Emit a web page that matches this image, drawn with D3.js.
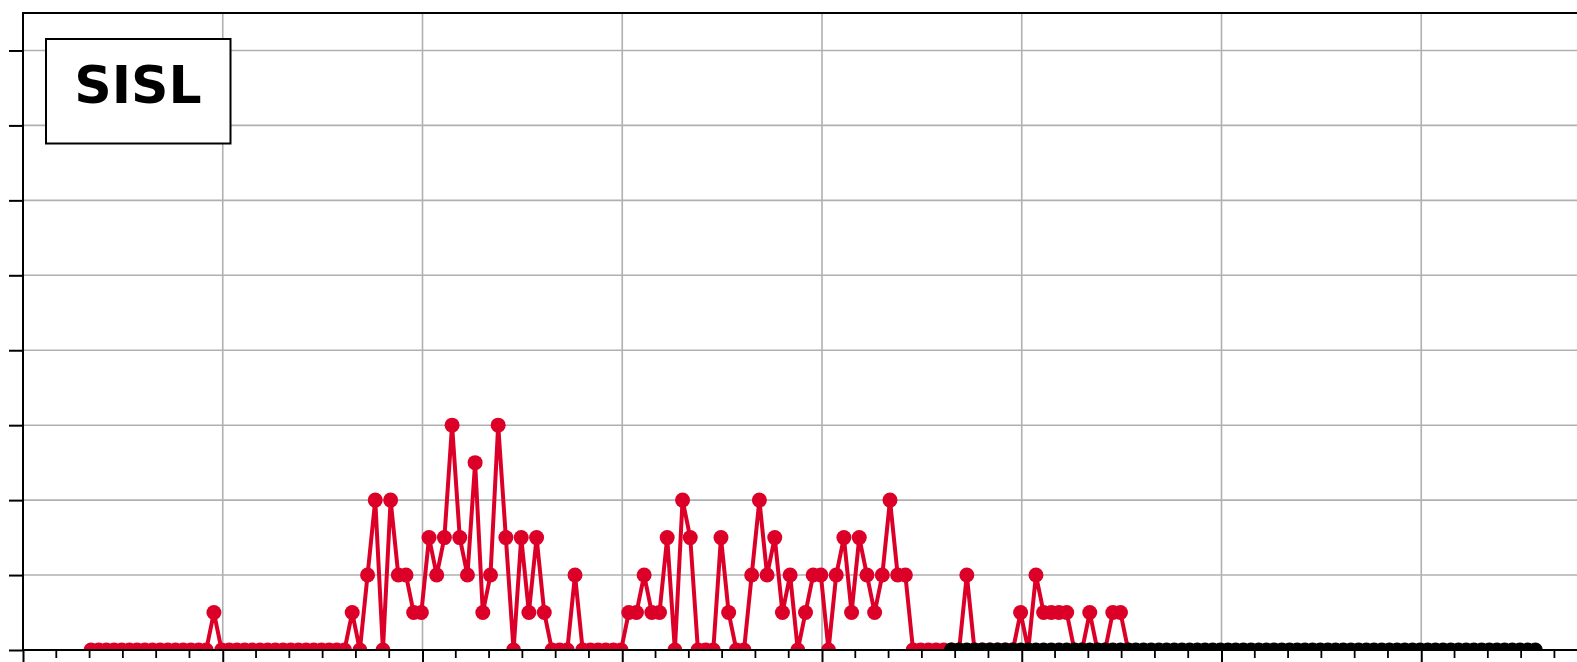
<!DOCTYPE html>
<html>
<head>
<meta charset="utf-8">
<script src="https://cdn.jsdelivr.net/npm/d3@7/dist/d3.min.js"></script>
<style>
  body { margin: 0; background: #fff; overflow: hidden; }
  svg { display: block; }
</style>
</head>
<body>
<div id="chart"></div>
<script>
// weekly counts; the start value is the week position of the first point
var redStart = 8.85;
var redCounts = [
  0, 0, 0, 0, 0, 0, 0, 0, 0, 0, 0, 0, 0, 0, 0, 0,
  1,
  0, 0, 0, 0, 0, 0, 0, 0, 0, 0, 0, 0, 0, 0, 0, 0, 0,
  1, 0, 2, 4, 0, 4, 2, 2, 1, 1,
  3, 2, 3, 6, 3, 2, 5, 1, 2, 6,
  3, 0, 3, 1, 3, 1, 0, 0, 0, 2,
  0, 0, 0, 0, 0, 0,
  1, 1, 2, 1, 1, 3, 0, 4, 3, 0,
  0, 0, 3, 1, 0, 0, 2, 4, 2, 3,
  1, 2, 0, 1, 2, 2, 0, 2, 3, 1,
  3, 2, 1, 2, 4, 2, 2, 0,
  0, 0, 0, 0, 0, 0,
  2,
  0, 0, 0, 0, 0, 0,
  1, 0, 2, 1, 1, 1, 1, 0, 0, 1, 0, 0, 1, 1, 0
];
var blackStart = 120.85;
var blackCounts = [
  0, 0, 0, 0, 0, 0, 0, 0, 0, 0, 0, 0, 0, 0, 0, 0, 0, 0, 0, 0,
  0, 0, 0, 0, 0, 0, 0, 0, 0, 0, 0, 0, 0, 0, 0, 0, 0, 0, 0, 0,
  0, 0, 0, 0, 0, 0, 0, 0, 0, 0, 0, 0, 0, 0, 0, 0, 0, 0, 0, 0,
  0, 0, 0, 0, 0, 0, 0, 0, 0, 0, 0, 0, 0, 0, 0, 0, 0
];
var yTicks = [0, 2, 4, 6, 8, 10, 12, 14, 16];
var xMajor = [0, 26, 52, 78, 104, 130, 156, 182, 208];
var boxLabel = "SISL";

var W = 1577, H = 662;
var plotLeft = 23, plotTop = 13, plotBottom = 650;
var pxPerWeek = 199.75 / 26;

var x = d3.scaleLinear().domain([0, 208]).range([plotLeft, plotLeft + 208 * pxPerWeek]);
var y = d3.scaleLinear().domain([0, 17]).range([plotBottom, plotTop]);

var svg = d3.select("#chart").append("svg")
    .attr("width", W)
    .attr("height", H);

svg.append("defs").append("clipPath").attr("id", "plotclip")
  .append("rect")
    .attr("x", x(0)).attr("y", y(17))
    .attr("width", x(208) - x(0)).attr("height", y(0) - y(17));

// grid
var grid = svg.append("g");
grid.selectAll("line.v").data(xMajor.slice(1, -1)).join("line")
    .attr("class", "v")
    .attr("x1", d => x(d)).attr("x2", d => x(d))
    .attr("y1", y(17)).attr("y2", y(0))
    .attr("stroke", "#b0b0b0").attr("stroke-width", 1.6);
grid.selectAll("line.h").data(yTicks.slice(1)).join("line")
    .attr("class", "h")
    .attr("x1", x(0)).attr("x2", x(208))
    .attr("y1", d => y(d)).attr("y2", d => y(d))
    .attr("stroke", "#b0b0b0").attr("stroke-width", 1.6);

// series
function drawSeries(start, counts, color) {
  var pts = counts.map((c, i) => ({ w: start + i, c: c }));
  var g = svg.append("g").attr("clip-path", "url(#plotclip)");
  g.append("path")
      .datum(pts)
      .attr("fill", "none")
      .attr("stroke", color)
      .attr("stroke-width", 4)
      .attr("stroke-linejoin", "round")
      .attr("d", d3.line().x(d => x(d.w)).y(d => y(d.c)));
  g.selectAll("circle").data(pts).join("circle")
      .attr("cx", d => x(d.w))
      .attr("cy", d => y(d.c))
      .attr("r", 7.5)
      .attr("fill", color);
}
drawSeries(redStart, redCounts, "#dc0028");
drawSeries(blackStart, blackCounts, "#000");

// axes
var xAxis = svg.append("g").attr("transform", "translate(0," + plotBottom + ")");
xAxis.call(d3.axisBottom(x).tickValues(xMajor).tickSize(14).tickFormat(""));
var minor = d3.range(0, 208, 26 / 6).filter(d => Math.abs(d / 26 - Math.round(d / 26)) > 0.01);
xAxis.selectAll("line.minor").data(minor).join("line")
    .attr("class", "minor")
    .attr("x1", d => x(d)).attr("x2", d => x(d))
    .attr("y1", 0).attr("y2", 8)
    .attr("stroke", "#000").attr("stroke-width", 1.8);
xAxis.selectAll(".tick line").attr("stroke-width", 2);
xAxis.select(".domain").remove();

var yAxis = svg.append("g").attr("transform", "translate(" + plotLeft + ",0)");
yAxis.call(d3.axisLeft(y).tickValues(yTicks).tickSize(14).tickFormat(""));
yAxis.selectAll(".tick line").attr("stroke-width", 2);
yAxis.select(".domain").remove();

// spines
svg.append("rect")
    .attr("x", x(0)).attr("y", y(17))
    .attr("width", x(208) - x(0)).attr("height", y(0) - y(17))
    .attr("fill", "none").attr("stroke", "#000").attr("stroke-width", 2);

// label box
var box = svg.append("g");
box.append("rect")
    .attr("x", 46).attr("y", 39).attr("width", 184.5).attr("height", 104.5)
    .attr("fill", "#fff").attr("stroke", "#000").attr("stroke-width", 2);
box.append("text")
    .attr("x", 138).attr("y", 103)
    .attr("text-anchor", "middle")
    .attr("font-family", "DejaVu Sans, sans-serif")
    .attr("font-weight", "bold")
    .attr("font-size", 52)
    .text(boxLabel);
</script>
</body>
</html>
